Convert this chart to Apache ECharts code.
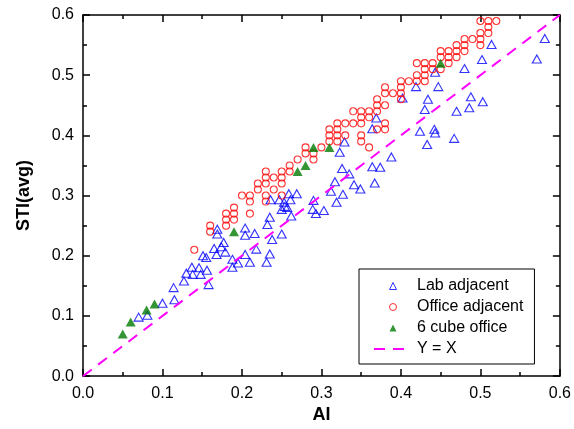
<!DOCTYPE html>
<html>
<head>
<meta charset="utf-8">
<script src="https://cdn.jsdelivr.net/npm/echarts@6/dist/echarts.min.js"></script>
<style>
  html, body { margin: 0; padding: 0; background: #fff; }
  #chart { width: 574px; height: 429px; }
</style>
</head>
<body>
<div id="chart"></div>
<script>
// [AI, STI(avg)] pairs for each measurement group
const labAdjacent = [
  [0.070, 0.098], [0.081, 0.101], [0.100, 0.121], [0.115, 0.127], [0.114, 0.147],
  [0.127, 0.158], [0.130, 0.171], [0.137, 0.181], [0.138, 0.169], [0.146, 0.180],
  [0.148, 0.169], [0.156, 0.176], [0.158, 0.152], [0.151, 0.200], [0.155, 0.197],
  [0.165, 0.212], [0.168, 0.202], [0.174, 0.215], [0.177, 0.222], [0.179, 0.206],
  [0.169, 0.244], [0.169, 0.236], [0.188, 0.194], [0.188, 0.181], [0.195, 0.188],
  [0.204, 0.202], [0.210, 0.189], [0.204, 0.246], [0.204, 0.234], [0.216, 0.237],
  [0.218, 0.211], [0.231, 0.189], [0.235, 0.203], [0.238, 0.227], [0.232, 0.252],
  [0.235, 0.264], [0.236, 0.293], [0.247, 0.293], [0.250, 0.236], [0.250, 0.277],
  [0.254, 0.282], [0.253, 0.289], [0.257, 0.280], [0.259, 0.303], [0.261, 0.293],
  [0.262, 0.266], [0.269, 0.303], [0.290, 0.292], [0.289, 0.277], [0.293, 0.270],
  [0.303, 0.275], [0.312, 0.307], [0.317, 0.323], [0.319, 0.289], [0.327, 0.302],
  [0.326, 0.345], [0.335, 0.336], [0.323, 0.372], [0.329, 0.389], [0.341, 0.318],
  [0.349, 0.311], [0.364, 0.348], [0.374, 0.347], [0.367, 0.321], [0.388, 0.364],
  [0.369, 0.429], [0.364, 0.411], [0.424, 0.407], [0.433, 0.385], [0.442, 0.410],
  [0.443, 0.404], [0.467, 0.395], [0.430, 0.443], [0.434, 0.460], [0.447, 0.481],
  [0.419, 0.481], [0.443, 0.505], [0.470, 0.440], [0.480, 0.511], [0.486, 0.446],
  [0.488, 0.464], [0.503, 0.456], [0.514, 0.551], [0.502, 0.526], [0.581, 0.561],
  [0.571, 0.527], [0.402, 0.462]
];

const officeAdjacent = [
  [0.14, 0.21],
  [0.16, 0.25], [0.16, 0.24],
  [0.18, 0.27], [0.18, 0.26], [0.18, 0.25],
  [0.19, 0.28], [0.19, 0.27], [0.19, 0.26],
  [0.20, 0.30],
  [0.21, 0.30], [0.21, 0.29], [0.21, 0.27],
  [0.22, 0.32], [0.22, 0.31],
  [0.23, 0.34], [0.23, 0.33], [0.23, 0.32], [0.23, 0.30], [0.23, 0.29],
  [0.24, 0.33], [0.24, 0.31],
  [0.25, 0.34], [0.25, 0.33], [0.25, 0.32], [0.25, 0.30],
  [0.26, 0.35], [0.26, 0.34],
  [0.27, 0.36],
  [0.28, 0.38], [0.28, 0.37],
  [0.29, 0.37], [0.29, 0.36],
  [0.30, 0.38],
  [0.31, 0.41], [0.31, 0.40], [0.31, 0.39],
  [0.32, 0.42], [0.32, 0.41], [0.32, 0.40], [0.32, 0.39],
  [0.33, 0.42], [0.33, 0.40],
  [0.34, 0.44], [0.34, 0.42],
  [0.35, 0.44], [0.35, 0.43], [0.35, 0.42], [0.35, 0.40], [0.35, 0.39],
  [0.36, 0.44], [0.36, 0.43], [0.36, 0.38],
  [0.37, 0.46], [0.37, 0.45], [0.37, 0.44], [0.37, 0.41],
  [0.38, 0.48], [0.38, 0.47], [0.38, 0.45], [0.38, 0.42], [0.38, 0.41],
  [0.39, 0.47],
  [0.40, 0.49], [0.40, 0.48], [0.40, 0.47], [0.40, 0.46],
  [0.41, 0.49],
  [0.42, 0.52], [0.42, 0.50], [0.42, 0.49],
  [0.43, 0.52], [0.43, 0.51], [0.43, 0.50], [0.43, 0.49],
  [0.44, 0.52], [0.44, 0.51],
  [0.45, 0.54], [0.45, 0.53], [0.45, 0.51],
  [0.46, 0.54], [0.46, 0.53], [0.46, 0.52],
  [0.47, 0.55], [0.47, 0.54], [0.47, 0.53],
  [0.48, 0.56], [0.48, 0.55], [0.48, 0.54],
  [0.49, 0.56],
  [0.50, 0.59], [0.50, 0.57], [0.50, 0.56], [0.50, 0.55],
  [0.51, 0.59], [0.51, 0.58], [0.51, 0.57],
  [0.52, 0.59]
];

const cubeOffice = [
  [0.05, 0.07], [0.06, 0.09], [0.08, 0.11], [0.09, 0.12], [0.19, 0.24],
  [0.27, 0.34], [0.28, 0.35], [0.29, 0.38], [0.31, 0.38], [0.45, 0.52]
];

// endpoints of the reference diagonal
const identityLine = [[0, 0], [0.6, 0.6]];

const seriesNames = ['Lab adjacent', 'Office adjacent', '6 cube office', 'Y = X'];

const FONT = '"Liberation Sans", Arial, Helvetica, sans-serif';
const BLUE = '#0000ff', RED = '#ff0000', GREEN = '#007a00', MAGENTA = '#ff00ff';
// triangle drawn as a path so the legend keeps its proportions
const TRIANGLE_ICON = 'path://M0,-1L1,1L-1,1Z';

function frameAxis(position, showLabels, extra) {
  return Object.assign({
    type: 'value', min: 0, max: 0.6, interval: 0.1, position: position,
    axisLine: { show: true, onZero: false, lineStyle: { color: '#000', width: 1.5 } },
    axisTick: { show: true, inside: true, length: 7, lineStyle: { color: '#000', width: 1.5 } },
    minorTick: { show: true, splitNumber: 2, length: 4, lineStyle: { color: '#000', width: 1.5 } },
    splitLine: { show: false },
    minorSplitLine: { show: false },
    axisLabel: {
      show: showLabels, fontSize: 16, color: '#000', fontFamily: FONT, margin: 9,
      formatter: v => v.toFixed(1)
    }
  }, extra || {});
}

const chart = echarts.init(document.getElementById('chart'), null, { renderer: 'canvas' });

chart.setOption({
  animation: false,
  backgroundColor: '#fff',
  grid: { left: 83, right: 12, top: 15, bottom: 49 },
  xAxis: [
    frameAxis('bottom', true, {
      name: 'AI', nameLocation: 'middle', nameGap: 29,
      nameTextStyle: { fontSize: 18, fontWeight: 'bold', color: '#000', fontFamily: FONT }
    }),
    frameAxis('top', false)
  ],
  yAxis: [
    frameAxis('left', true, {
      name: 'STI(avg)', nameLocation: 'middle', nameGap: 50,
      nameTextStyle: { fontSize: 18, fontWeight: 'bold', color: '#000', fontFamily: FONT }
    }),
    frameAxis('right', false)
  ],
  legend: {
    orient: 'vertical', left: 359, top: 269,
    backgroundColor: '#fff', borderColor: '#000', borderWidth: 1,
    padding: [8, 11, 6, 14],
    itemWidth: 38, itemHeight: 7, itemGap: 3, symbolKeepAspect: true,
    textStyle: { fontSize: 16, color: '#000', fontFamily: FONT, lineHeight: 18 },
    data: [
      { name: seriesNames[0], icon: TRIANGLE_ICON, itemStyle: { color: 'rgba(0,0,0,0)', borderColor: BLUE, borderWidth: 1 } },
      { name: seriesNames[1], icon: 'circle', itemStyle: { color: 'rgba(0,0,0,0)', borderColor: RED, borderWidth: 1 } },
      { name: seriesNames[2], icon: TRIANGLE_ICON, itemStyle: { color: GREEN, borderWidth: 0 } },
      { name: seriesNames[3], itemStyle: { color: 'rgba(0,0,0,0)', borderWidth: 0, opacity: 0 } }
    ]
  },
  series: [
    {
      name: seriesNames[0], type: 'scatter', data: labAdjacent,
      symbol: 'triangle', symbolSize: [9, 8],
      itemStyle: { color: 'rgba(0,0,0,0)', borderColor: BLUE, borderWidth: 1.1 },
      z: 2
    },
    {
      name: seriesNames[1], type: 'scatter', data: officeAdjacent,
      symbol: 'circle', symbolSize: 7,
      itemStyle: { color: 'rgba(0,0,0,0)', borderColor: RED, borderWidth: 1.1 },
      z: 3
    },
    {
      name: seriesNames[2], type: 'scatter', data: cubeOffice,
      symbol: 'triangle', symbolSize: [10, 9],
      itemStyle: { color: GREEN },
      z: 4
    },
    {
      name: seriesNames[3], type: 'line', data: identityLine,
      showSymbol: false, symbol: 'none',
      lineStyle: { color: MAGENTA, width: 2, type: [11, 8] },
      itemStyle: { color: MAGENTA },
      z: 5
    }
  ]
});
</script>
</body>
</html>
